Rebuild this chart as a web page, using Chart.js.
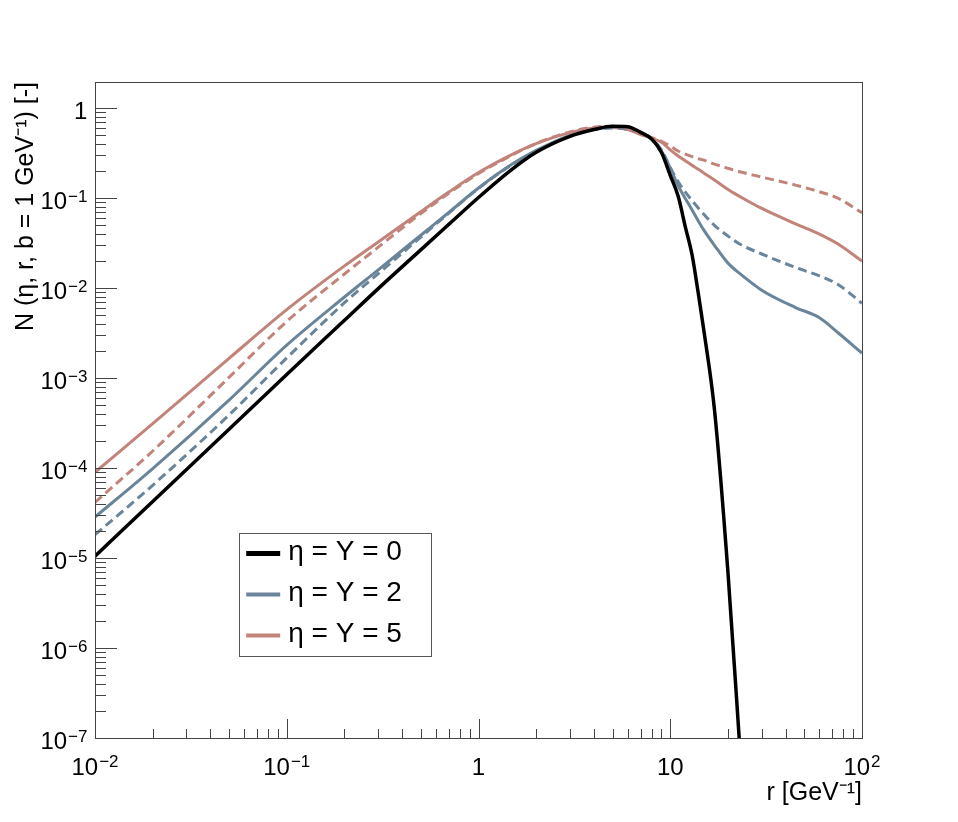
<!DOCTYPE html>
<html>
<head>
<meta charset="utf-8">
<script src="https://cdn.jsdelivr.net/npm/chart.js@4.4.1/dist/chart.umd.min.js"></script>
<style>
  html, body { margin: 0; padding: 0; background: #fff; }
  #wrap { width: 958px; height: 822px; }
</style>
</head>
<body>
<div id="wrap"><canvas id="chart" width="958" height="822"></canvas></div>
<script>
// r grid in GeV^-1
const rValues = [0.01, 0.02, 0.05, 0.1, 0.2, 0.3, 0.5, 0.7, 1, 1.5, 2, 3, 4, 5, 6, 7, 8, 9, 10, 11, 12, 13, 14, 15, 17, 20, 23, 30, 45, 60, 75, 100];

// N(eta, r, b = 1 GeV^-1)
const nY0 = [1.05e-5, 4.25e-5, 2.7e-4, 1.1e-3, 4.4e-3, 9.9e-3, 0.0267, 0.0512, 0.102, 0.211, 0.325, 0.488, 0.58, 0.63, 0.625, 0.54, 0.455, 0.323, 0.18, 0.105, 0.0475, 0.0234, 8.8e-3, 3.3e-3, 4.5e-4, 6.9e-6, 8.5e-8, null, null, null, null, null];
const nY2 = [2.86e-5, 9.9e-5, 5.7e-4, 2.33e-3, 7.98e-3, 0.016, 0.0388, 0.0695, 0.13, 0.24, 0.34, 0.5, 0.586, 0.61, 0.585, 0.535, 0.455, 0.335, 0.216, 0.137, 0.099, 0.074, 0.056, 0.044, 0.03, 0.019, 0.0146, 9.5e-3, 6.1e-3, 4.7e-3, 3.2e-3, 1.9e-3];
const nY2Dashed = [1.82e-5, 6.45e-5, 3.9e-4, 1.68e-3, 6.9e-3, 0.0145, 0.037, 0.0684, 0.129, 0.237, 0.335, 0.495, 0.58, 0.605, 0.585, 0.535, 0.455, 0.345, 0.22, 0.152, 0.117, 0.094, 0.078, 0.066, 0.05, 0.038, 0.031, 0.024, 0.017, 0.0137, 0.011, 6.8e-3];
const nY5 = [9e-5, 3.13e-4, 1.66e-3, 5.78e-3, 0.0177, 0.0327, 0.0708, 0.117, 0.193, 0.308, 0.405, 0.537, 0.603, 0.615, 0.58, 0.51, 0.465, 0.42, 0.345, 0.295, 0.26, 0.232, 0.21, 0.19, 0.16, 0.125, 0.105, 0.077, 0.052, 0.04, 0.031, 0.02];
const nY5Dashed = [4.15e-5, 1.55e-4, 1.02e-3, 4.27e-3, 0.0144, 0.0286, 0.0675, 0.1135, 0.188, 0.302, 0.407, 0.547, 0.616, 0.63, 0.6, 0.52, 0.47, 0.43, 0.38, 0.335, 0.31, 0.29, 0.275, 0.265, 0.24, 0.215, 0.197, 0.172, 0.14, 0.118, 0.1, 0.069];

const seriesLabels = ['η = Y = 0', 'η = Y = 2', 'η = Y = 5'];
const seriesColors = ['#000000', '#6a8499', '#c2837a'];

// tick labels as [base, exponent]
const xTickValues = [0.01, 0.1, 1, 10, 100];
const xTickLabels = [['10', '−2'], ['10', '−1'], ['1', ''], ['10', ''], ['10', '2']];
const yTickValues = [1e-7, 1e-6, 1e-5, 1e-4, 1e-3, 1e-2, 1e-1, 1];
const yTickLabels = [['10', '−7'], ['10', '−6'], ['10', '−5'], ['10', '−4'], ['10', '−3'], ['10', '−2'], ['10', '−1'], ['1', '']];

const FONT = '"Liberation Sans", Arial, Helvetica, sans-serif';
Chart.defaults.font.family = FONT;
Chart.defaults.color = '#000';

const points = arr => rValues.map((r, i) => ({ x: r, y: arr[i] }));

// base with a raised exponent; x is the ink right edge ('right') or centre ('center'), y the baseline
function drawPower(ctx, label, x, y, align, raise) {
  const [base, exp] = label;
  ctx.font = '24px ' + FONT;
  const bm = ctx.measureText(base);
  ctx.font = '17px ' + FONT;
  const em = exp ? ctx.measureText(exp) : null;
  const gap = 1;
  let left;
  if (align === 'right') {
    const inkRight = exp ? bm.width + gap + em.actualBoundingBoxRight : bm.actualBoundingBoxRight;
    left = x - inkRight;
  } else {
    const total = bm.width + (exp ? gap + em.width : 0);
    left = x - total / 2;
  }
  ctx.font = '24px ' + FONT;
  ctx.fillText(base, left, y);
  if (exp) {
    ctx.font = '17px ' + FONT;
    ctx.fillText(exp, left + bm.width + gap, y - raise);
  }
}

// ROOT-like frame: inward ticks, box, labels, legend inside the pad
const rootFrame = {
  id: 'rootFrame',
  afterDatasetsDraw(chart) {
    const { ctx, chartArea: a, scales: { x, y } } = chart;
    ctx.save();
    ctx.strokeStyle = '#444';
    ctx.lineWidth = 1;
    ctx.beginPath();
    for (let e = -7; e <= 0; e++) {
      for (let m = 1; m <= 9; m++) {
        const v = m * Math.pow(10, e);
        if (v < y.min || v > y.max) continue;
        const py = Math.round(y.getPixelForValue(v)) + 0.5;
        ctx.moveTo(a.left, py);
        ctx.lineTo(a.left + (m === 1 ? 22 : 11), py);
      }
    }
    for (let e = -2; e <= 2; e++) {
      for (let m = 1; m <= 9; m++) {
        const v = m * Math.pow(10, e);
        if (v < x.min * 0.999 || v > x.max * 1.001) continue;
        const px = Math.round(x.getPixelForValue(v)) + 0.5;
        ctx.moveTo(px, a.bottom);
        ctx.lineTo(px, a.bottom - (m === 1 ? 19 : 9));
      }
    }
    ctx.stroke();
    ctx.strokeRect(Math.round(a.left) + 0.5, Math.round(a.top) + 0.5,
      Math.round(a.right - a.left), Math.round(a.bottom - a.top));

    // tick labels
    ctx.fillStyle = '#000';
    ctx.textBaseline = 'alphabetic';
    ctx.textAlign = 'left';
    yTickValues.forEach((v, i) => {
      drawPower(ctx, yTickLabels[i], a.left - 8, y.getPixelForValue(v) + 10.5, 'right', 7);
    });
    xTickValues.forEach((v, i) => {
      drawPower(ctx, xTickLabels[i], x.getPixelForValue(v), a.bottom + 37, 'center', 8);
    });

    // legend
    const w = a.right - a.left, h = a.bottom - a.top;
    const lx = a.left + 0.188 * w, rx = a.left + 0.438 * w;
    const ty = a.top + 0.6875 * h, by = a.top + 0.875 * h;
    ctx.fillStyle = '#fff';
    ctx.fillRect(lx, ty, rx - lx, by - ty);
    ctx.strokeStyle = '#555';
    ctx.lineWidth = 1;
    ctx.strokeRect(Math.round(lx) + 0.5, Math.round(ty) + 0.5, Math.round(rx - lx), Math.round(by - ty));
    const rowH = (by - ty) / 3;
    ctx.font = '28px ' + FONT;
    ctx.textBaseline = 'alphabetic';
    seriesLabels.forEach((lab, i) => {
      const cy = ty + rowH * (i + 0.5);
      ctx.strokeStyle = seriesColors[i];
      ctx.lineWidth = i === 0 ? 5 : 4;
      ctx.beginPath();
      ctx.moveTo(lx + 7, cy);
      ctx.lineTo(lx + 41, cy);
      ctx.stroke();
      ctx.fillStyle = '#000';
      ctx.fillText(lab, lx + 49, cy + 6);
    });
    ctx.restore();
  }
};

const common = { pointRadius: 0, fill: false, cubicInterpolationMode: 'monotone', spanGaps: false };

new Chart(document.getElementById('chart'), {
  type: 'line',
  data: {
    datasets: [
      { ...common, label: seriesLabels[0], data: points(nY0), borderColor: seriesColors[0], borderWidth: 3.5 },
      { ...common, label: seriesLabels[2] + ' (dashed)', data: points(nY5Dashed), borderColor: seriesColors[2], borderWidth: 3, borderDash: [9, 5] },
      { ...common, label: seriesLabels[1] + ' (dashed)', data: points(nY2Dashed), borderColor: seriesColors[1], borderWidth: 3, borderDash: [9, 5] },
      { ...common, label: seriesLabels[2], data: points(nY5), borderColor: seriesColors[2], borderWidth: 3 },
      { ...common, label: seriesLabels[1], data: points(nY2), borderColor: seriesColors[1], borderWidth: 3 }
    ]
  },
  options: {
    responsive: false,
    animation: false,
    devicePixelRatio: 1,
    layout: { padding: { left: 0, top: 82, right: 96, bottom: 0 } },
    plugins: { legend: { display: false }, tooltip: { enabled: false } },
    scales: {
      x: {
        type: 'logarithmic',
        min: 0.01,
        max: 100,
        bounds: 'data',
        grid: { display: false },
        border: { display: false },
        ticks: { display: false },
        afterFit: s => { s.height = 84; },
        title: {
          display: true, text: 'r [GeV⁻¹]', align: 'end',
          font: { size: 25 }, padding: { top: 0, bottom: 14 }
        }
      },
      y: {
        type: 'logarithmic',
        min: 1e-7,
        max: 1.96,
        bounds: 'data',
        grid: { display: false },
        border: { display: false },
        ticks: { display: false },
        afterFit: s => { s.width = 95; },
        title: {
          display: true, text: 'N (η, r, b = 1 GeV⁻¹) [-]', align: 'end',
          font: { size: 25 }, padding: { top: 11, bottom: 0 }
        }
      }
    }
  },
  plugins: [rootFrame]
});
</script>
</body>
</html>
